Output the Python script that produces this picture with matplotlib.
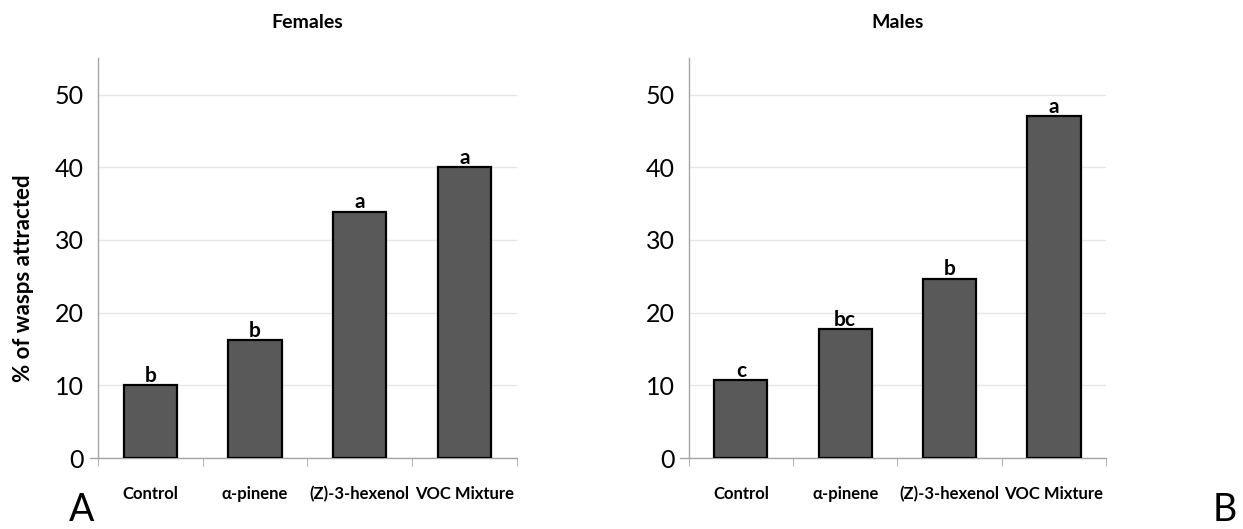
"""
Attraction of wasps to plant volatiles, by sex
"""
import matplotlib.pyplot as plt

plt.rcParams['font.family'] = ['Lato', 'DejaVu Sans']

treatments = ['Control', 'α-pinene', '(Z)-3-hexenol', 'VOC Mixture']
females_pct = [10.0, 16.2, 33.9, 40.0]
females_letters = ['b', 'b', 'a', 'a']
males_pct = [10.7, 17.7, 24.7, 47.0]
males_letters = ['c', 'bc', 'b', 'a']

BAR_COLOR = '#595959'
AXIS_COLOR = '#a6a6a6'
GRID_COLOR = '#e6e6e6'


def draw_panel(ax, values, letters, title):
    x = range(len(treatments))
    ax.bar(x, values, width=0.51, color=BAR_COLOR, edgecolor='black',
           linewidth=1.6, zorder=3)
    for xi, v, lab in zip(x, values, letters):
        ax.text(xi, v - 0.1, lab, ha='center', va='bottom',
                fontsize=15, fontweight='bold', zorder=4)

    ax.set_xlim(-0.5, len(treatments) - 0.5)
    ax.set_ylim(0, 55)
    ax.set_yticks(range(0, 51, 10))
    ax.yaxis.grid(True, color=GRID_COLOR, linewidth=1, zorder=0)
    ax.tick_params(axis='y', length=0, labelsize=18, pad=10)

    # category labels at centres, separator ticks between categories
    ax.set_xticks(list(x))
    ax.set_xticklabels(treatments, fontsize=12, fontweight='bold')
    ax.tick_params(axis='x', which='major', length=0, pad=20)
    ax.set_xticks([i - 0.5 for i in range(len(treatments) + 1)], minor=True)
    ax.tick_params(axis='x', which='minor', length=6, color=AXIS_COLOR,
                   direction='out')

    for side in ['top', 'right']:
        ax.spines[side].set_visible(False)
    for side in ['left', 'bottom']:
        ax.spines[side].set_color(AXIS_COLOR)
        ax.spines[side].set_linewidth(1)
    # the baseline runs a little past the y axis
    ax.plot([-0.02, 0], [0, 0], transform=ax.transAxes, color=AXIS_COLOR,
            linewidth=1, clip_on=False)

    ax.set_title(title, fontsize=14, fontweight='bold', pad=22)


fig = plt.figure(figsize=(12.43, 5.29), dpi=100)
ax_f = fig.add_axes([0.0788, 0.134, 0.337, 0.756])
ax_m = fig.add_axes([0.554, 0.134, 0.336, 0.756])

draw_panel(ax_f, females_pct, females_letters, 'Females')
draw_panel(ax_m, males_pct, males_letters, 'Males')

ax_f.set_ylabel('% of wasps attracted', fontsize=16, fontweight='bold')
ax_f.yaxis.set_label_coords(-0.152, 0.45)

fig.text(0.066, 0.035, 'A', fontsize=27, ha='center', va='center')
fig.text(0.985, 0.035, 'B', fontsize=27, ha='center', va='center')

plt.savefig('out.png', dpi=100)
